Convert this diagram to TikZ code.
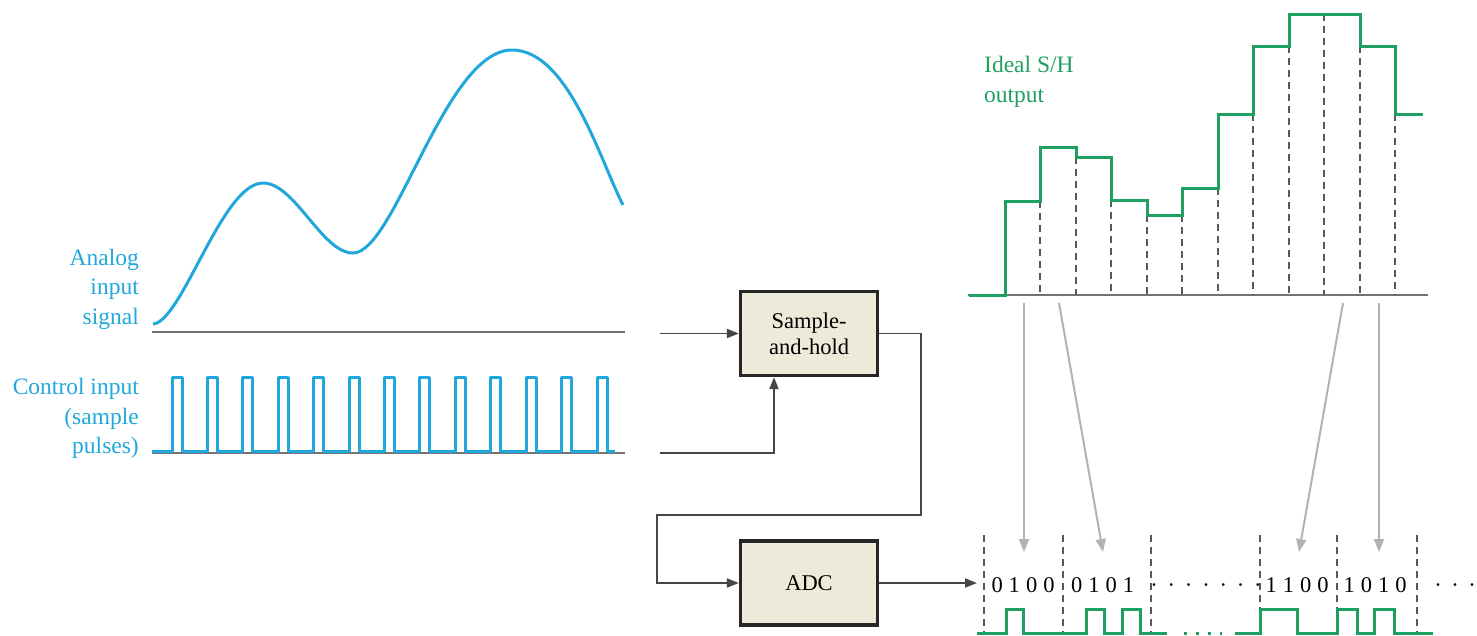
\documentclass[tikz,border=0pt]{standalone}
\usepackage{fontspec}
\setmainfont{Liberation Serif}
\usetikzlibrary{arrows.meta}
\definecolor{cyanc}{RGB}{32,168,220}
\definecolor{greenc}{RGB}{30,160,96}
\definecolor{boxfill}{RGB}{238,234,218}
\definecolor{linec}{RGB}{70,70,70}
\definecolor{axisc}{RGB}{115,115,115}
\definecolor{arrowgray}{RGB}{178,178,178}
\begin{document}
\begin{tikzpicture}[x=1pt,y=-1pt,
  lbl/.style={font=\fontsize{23.5}{29.5}\selectfont, inner sep=0pt},
  dig/.style={font=\fontsize{22.5}{27}\selectfont, inner sep=0pt},
  blk/.style={draw=black!85, line width=3.2pt, fill=boxfill, minimum width=137pt, minimum height=84pt, font=\fontsize{22.5}{26}\selectfont, align=center, inner sep=0pt},
  conn/.style={draw=linec, line width=1.8pt},
  tip/.style={-{Triangle[length=12pt,width=9pt]}},
  axis/.style={draw=axisc, line width=2pt},
  sig/.style={draw=cyanc, line width=3pt, line join=round},
  grn/.style={draw=greenc, line width=3pt},
  samp/.style={draw=black!65, line width=1.5pt, dash pattern=on 7pt off 5pt},
  garrow/.style={draw=arrowgray, line width=2pt, -{Triangle[length=13pt,width=10pt]}}]
\useasboundingbox (0,0) rectangle (1477,635);

% ---------- left: analog signal ----------
\draw[axis] (152,332) -- (625,332);
\draw[sig] (153,324) .. controls (182,322) and (222,183) .. (263,183)
  .. controls (295,183) and (322,253) .. (353,253)
  .. controls (395,253) and (445,50) .. (512,50)
  .. controls (568,50) and (600,160) .. (623,205);
\node[lbl, cyanc, anchor=east, align=right] (alab) at (139,289) {Analog\\input\\signal};

% ---------- left: control pulses ----------
\draw[axis] (152,453) -- (625,453);
\draw[sig] (152,451) \foreach \i in {0,...,12}{ -- ({172+35.42*\i},451) -- ({172+35.42*\i},377) -- ({182+35.42*\i},377) -- ({182+35.42*\i},451) } -- (615,451);
\node[lbl, cyanc, anchor=east, align=right] (clab) at (139,418.5) {Control input\\(sample\\pulses)};

% ---------- blocks ----------
\node[blk] (sh) at (809,333.5) {Sample-\\and-hold};
\node[blk] (adc) at (809,583) {ADC};

\coordinate (ain) at (660,333.5);
\coordinate (cin) at (660,453);
\coordinate (r1) at (921,515);
\coordinate (l1) at (657,515);
\coordinate (dout) at (977,583);
\draw[conn,tip] (ain) -- (sh.west);
\draw[conn,tip] (cin) -| ([xshift=-35pt]sh.south);
\draw[conn,tip] (sh.east) -| (r1) -- (l1) |- (adc.west);
\draw[conn,tip] (adc.east) -- (dout);

% ---------- right: ideal S/H output ----------
\draw[axis] (968,295) -- (1428,295);
\foreach \x/\y in {1040/201,1076/157,1111/200,1147/215,1182/215,1218/188,1253/114,1289/46,1324/14,1360/46,1395/114}
  \draw[samp] (\x,\y) -- (\x,295);
\draw[grn] (969,295) -- (1005,295) -- (1005,201) -- (1040,201) -- (1040,147) -- (1076,147) -- (1076,157) -- (1111,157) -- (1111,200) -- (1147,200) -- (1147,215) -- (1182,215) -- (1182,188) -- (1218,188) -- (1218,114) -- (1253,114) -- (1253,46) -- (1289,46) -- (1289,14) -- (1360,14) -- (1360,46) -- (1395,46) -- (1395,114) -- (1423,114);
\node[lbl, greenc, anchor=west, align=left] (shlab) at (984,82) {Ideal S/H\\output};

% ---------- digital output ----------
\foreach \x in {984,1063,1151,1260,1337,1417}
  \draw[samp] (\x,535) -- (\x,635);
\node[dig, anchor=base] (g1) at (1023,592) {0\hskip6pt 1\hskip6pt 0\hskip6pt 0};
\node[dig, anchor=base] (g2) at (1102.5,592) {0\hskip6pt 1\hskip6pt 0\hskip6pt 1};
\node[dig, anchor=base] (g3) at (1297,592) {1\hskip6pt 1\hskip6pt 0\hskip6pt 0};
\node[dig, anchor=base] (g4) at (1375,592) {1\hskip6pt 0\hskip6pt 1\hskip6pt 0};
\node[dig, anchor=base] (d1) at (1206,592) {·\hskip9.8pt ·\hskip9.8pt ·\hskip9.8pt ·\hskip9.8pt ·\hskip9.8pt ·\hskip9.8pt ·};
\node[dig, anchor=base] (d2) at (1455,592) {·\hskip9.5pt ·\hskip9.5pt ·};

\coordinate (a1s) at (1024,303); \coordinate (a1e) at (1024,552);
\coordinate (a2s) at (1059,303); \coordinate (a2e) at (1103,552);
\coordinate (a3s) at (1343,303); \coordinate (a3e) at (1299,552);
\coordinate (a4s) at (1379,303); \coordinate (a4e) at (1379,552);
\draw[garrow] (a1s) -- (a1e);
\draw[garrow] (a2s) -- (a2e);
\draw[garrow] (a3s) -- (a3e);
\draw[garrow] (a4s) -- (a4e);

\draw[grn] (977,633) -| (1006,609) -| (1023,633) -| (1086,609) -| (1104,633) -| (1122,609) -| (1140,633) -- (1167,633);
\draw[greenc, line width=3pt, dash pattern=on 3pt off 9pt] (1184,633) -- (1222,633);
\draw[grn] (1235,633) -| (1260,609) -| (1297,633) -| (1337,609) -| (1357,633) -| (1374,609) -| (1394,633) -- (1433,633);
\end{tikzpicture}
\end{document}
